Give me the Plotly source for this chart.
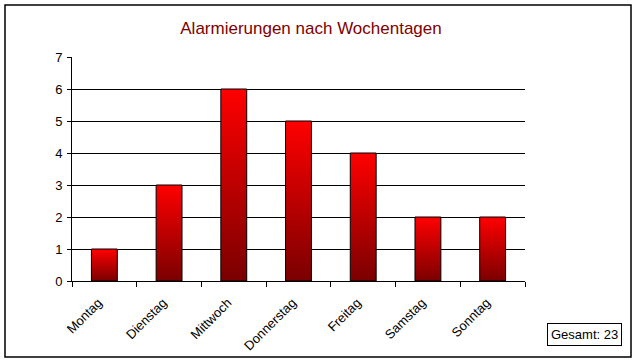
import plotly.graph_objects as go

days = ["Montag", "Dienstag", "Mittwoch", "Donnerstag", "Freitag", "Samstag", "Sonntag"]
counts = [1, 3, 6, 5, 4, 2, 2]
y_ticks = [0, 1, 2, 3, 4, 5, 6, 7]
title_text = "Alarmierungen nach Wochentagen"
total_text = "Gesamt: 23"

W, H = 638, 364
FONT = "Liberation Sans, Arial, sans-serif"

fig = go.Figure()
half = 0.2
for i, (d, v) in enumerate(zip(days, counts)):
    fig.add_trace(go.Scatter(
        x=[i - half, i - half, i + half, i + half, i - half],
        y=[0, v, v, 0, 0],
        mode="lines",
        fill="toself",
        line=dict(color="black", width=1),
        fillgradient=dict(type="vertical",
                          colorscale=[[0, "#7a0000"], [1, "#ff0000"]],
                          start=0, stop=v),
        name=d,
        showlegend=False,
        hoverinfo="skip",
    ))

px0, px1 = 72, 525
py0, py1 = 57, 281

fig.update_layout(
    width=W, height=H,
    margin=dict(l=0, r=0, t=0, b=0),
    paper_bgcolor="white", plot_bgcolor="white",
    font=dict(family=FONT, size=13, color="black"),
    title=dict(text=title_text, x=311 / W, y=1 - 28 / H,
               xanchor="center", yanchor="middle",
               font=dict(family=FONT, size=17, color="#800000")),
    xaxis=dict(domain=[px0 / W, px1 / W], range=[-0.5, 6.5],
               tickmode="array", tickvals=list(range(len(days))), ticktext=days,
               tickangle=-45, ticks="", showgrid=False, zeroline=False,
               showline=True, linecolor="black", linewidth=1,
               automargin=False,
               ticklabelstandoff=8, ticklabelshift=-6,
               tickfont=dict(family=FONT, size=13, color="black"),
               minor=dict(tickmode="array",
                          tickvals=[i - 0.5 for i in range(len(days) + 1)],
                          ticks="outside", ticklen=5, tickcolor="black",
                          tickwidth=1, showgrid=False),
               fixedrange=True),
    yaxis=dict(domain=[1 - py1 / H, 1 - py0 / H], range=[0, 7],
               tickmode="array", tickvals=y_ticks,
               ticks="outside", ticklen=4, tickcolor="black",
               ticklabelstandoff=2,
               tickfont=dict(family=FONT, size=13, color="black"),
               showgrid=True, gridcolor="black", gridwidth=1,
               zeroline=False, showline=True, linecolor="black", linewidth=1,
               automargin=False, fixedrange=True),
    shapes=[dict(type="rect", xref="paper", yref="paper",
                 x0=5 / W, x1=631 / W, y0=1 - 357 / H, y1=1 - 5 / H,
                 line=dict(color="black", width=1.5), fillcolor="rgba(0,0,0,0)",
                 layer="below")],
    annotations=[dict(text=total_text, xref="paper", yref="paper",
                      x=584.5 / W, y=1 - 334.5 / H, xanchor="center", yanchor="middle",
                      showarrow=False, bordercolor="black", borderwidth=1,
                      borderpad=3, bgcolor="white",
                      font=dict(family=FONT, size=13, color="black"))],
)

fig.write_html("out.html", config={"displayModeBar": False},
               post_script="document.body.style.margin='0';document.body.style.overflow='hidden';")
